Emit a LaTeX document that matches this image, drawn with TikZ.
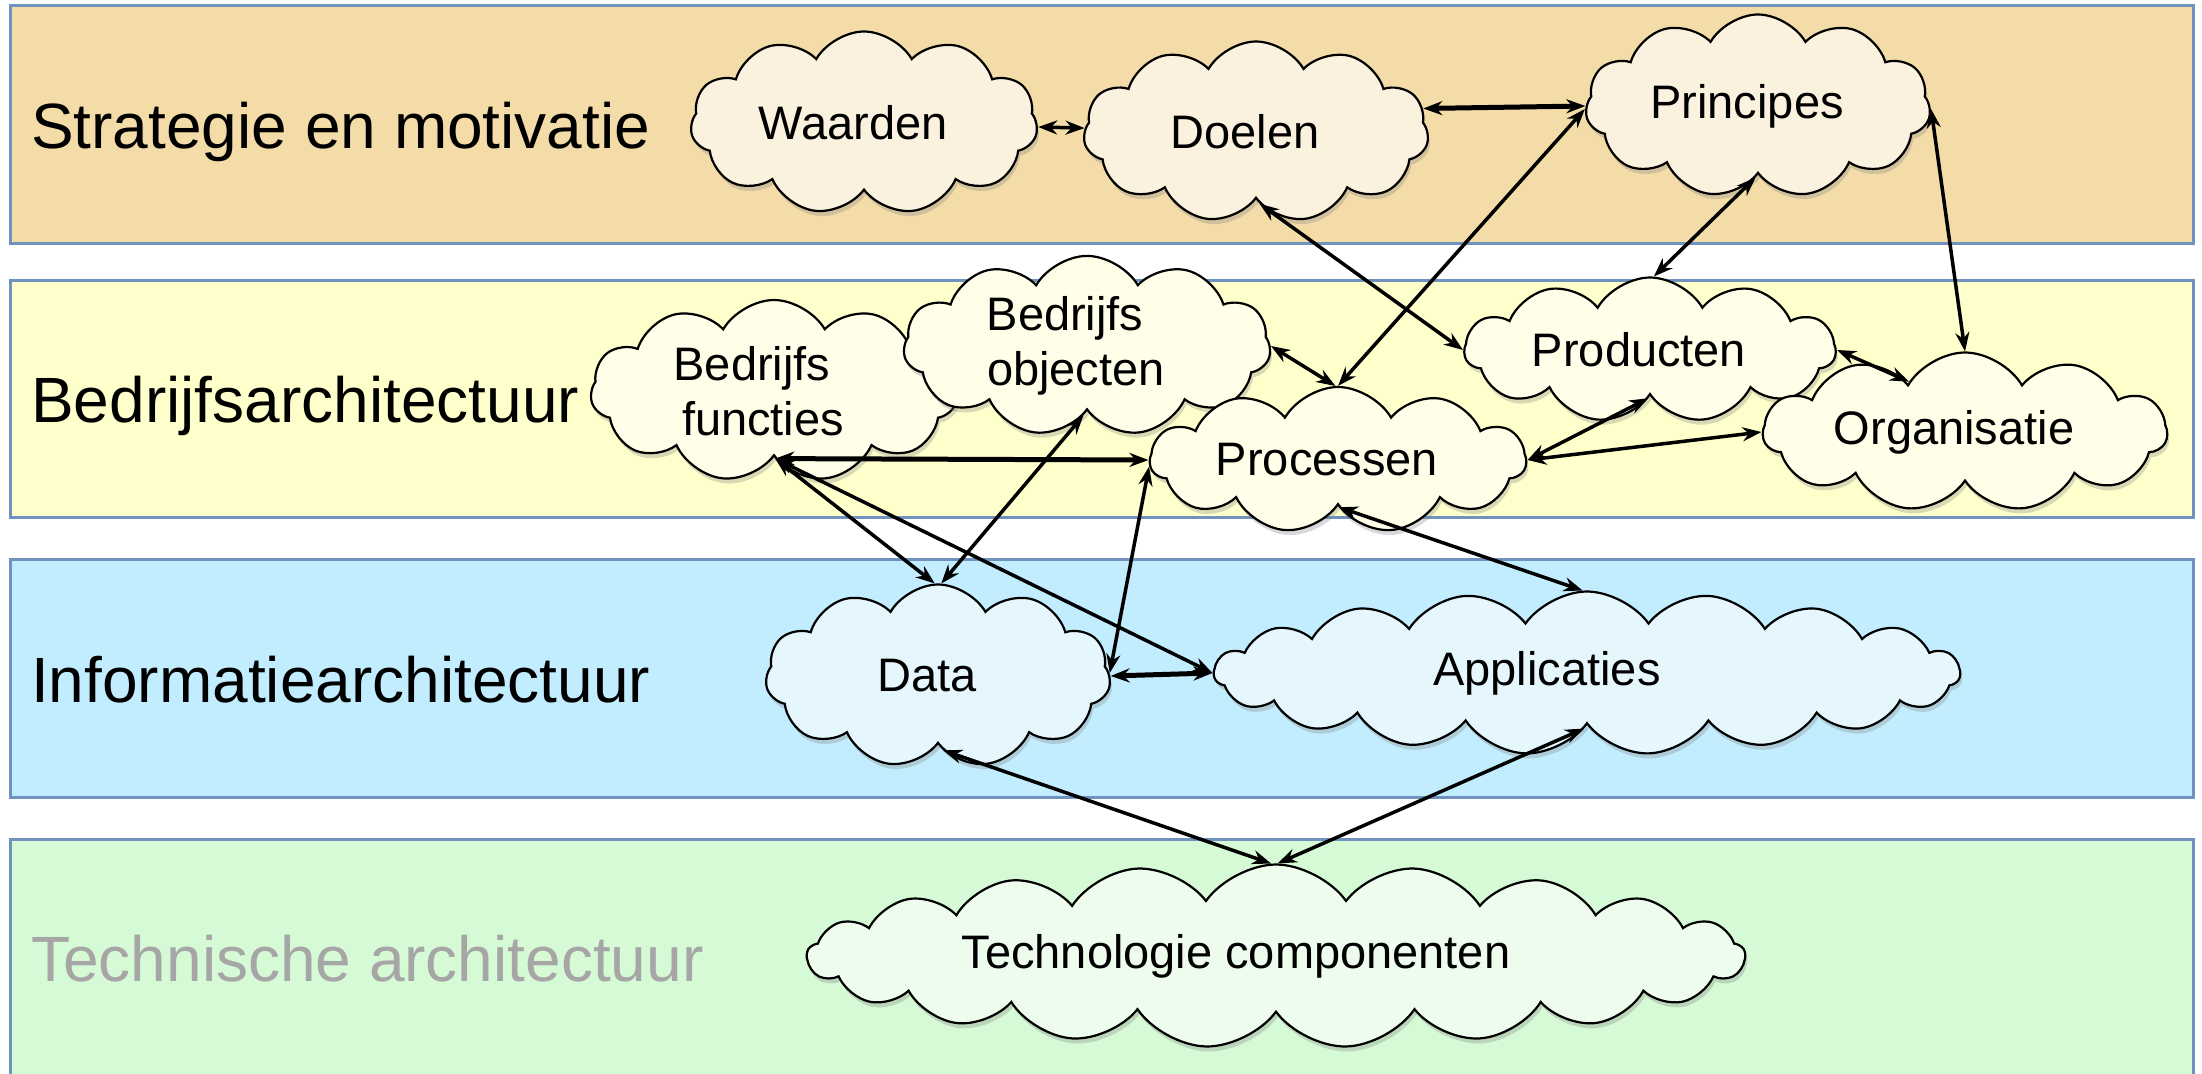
\documentclass[tikz,border=0pt]{standalone}
\usepackage{fontspec}
\setmainfont{Liberation Sans}
\usepackage{tikz}
\usetikzlibrary{shapes.symbols,arrows.meta,shadows}

\definecolor{bandline}{RGB}{112,146,190}
\definecolor{stratband}{RGB}{243,220,168}
\definecolor{stratwolk}{RGB}{250,241,222}
\definecolor{bedrband}{RGB}{255,255,204}
\definecolor{bedrwolk}{RGB}{254,254,233}
\definecolor{infoband}{RGB}{194,237,254}
\definecolor{infowolk}{RGB}{229,246,252}
\definecolor{techband}{RGB}{213,250,213}
\definecolor{techwolk}{RGB}{237,252,236}
\definecolor{techtekst}{RGB}{166,166,166}

\begin{document}
\begin{tikzpicture}
	[
		x=1pt, y=-1pt,
		band/.style  = {draw=bandline, line width=3pt},
		laag/.style  = {anchor=base west, inner sep=0pt, font=\fontsize{64}{70}\selectfont},
		wolk/.style  = {cloud, cloud puffs=11, cloud puff arc=120, cloud ignores aspect,
		                draw=black, line width=2.2pt, align=center, inner sep=0pt,
		                font=\fontsize{47}{55}\selectfont,
		                drop shadow={shadow xshift=2pt, shadow yshift=-5pt, opacity=0.3},
		                execute at end node={\hspace*{22pt}}},
		breed/.style = {wolk, cloud puffs=19, cloud puff arc=110, execute at end node={\hspace*{58pt}}},
		link/.style  = {{Stealth[length=19pt,width=14pt]}-{Stealth[length=19pt,width=14pt]}, line width=3.5pt},
		dik/.style   = {link, line width=5pt},
	]

	\useasboundingbox (0,0) rectangle (2202,1073);

	% lagen
	\draw[band, fill=stratband] (10,6)   rectangle (2193,243);
	\draw[band, fill=bedrband]  (10,280) rectangle (2193,517);
	\draw[band, fill=infoband]  (10,559) rectangle (2193,797);
	\draw[band, fill=techband]  (10,839) rectangle (2193,1090);

	\node[laag] (strategie)  at ( 31, 148 ) {Strategie en motivatie};
	\node[laag] (bedrijf)    at ( 31, 422 ) {Bedrijfsarchitectuur};
	\node[laag] (informatie) at ( 31, 702 ) {Informatiearchitectuur};
	\node[laag, text=techtekst] (technisch) at ( 31, 981 ) {Technische architectuur};

	% wolken
	\node[wolk, fill=stratwolk, minimum width=347pt, minimum height=183pt] (waarden)     at (  864, 123 ) {Waarden};
	\node[wolk, fill=stratwolk, minimum width=345pt, minimum height=181pt] (doelen)      at ( 1256, 132 ) {Doelen};
	\node[wolk, fill=stratwolk, minimum width=345pt, minimum height=183pt] (principes)   at ( 1758, 106 ) {Principes};
	\node[wolk, fill=bedrwolk,  minimum width=367pt, minimum height=182pt] (functies)    at (  774, 391 ) {Bedrijfs\hspace*{22pt}\\functies};
	\node[wolk, fill=bedrwolk,  minimum width=367pt, minimum height=142pt] (objecten)    at ( 1087, 346 ) {Bedrijfs\hspace*{22pt}\\objecten};
	\node[wolk, fill=bedrwolk,  minimum width=371pt, minimum height=145pt] (producten)   at ( 1650, 350 ) {Producten};
	\node[wolk, fill=bedrwolk,  minimum width=376pt, minimum height=146pt] (processen)   at ( 1338, 460 ) {Processen};
	\node[wolk, fill=bedrwolk,  minimum width=404pt, minimum height=159pt] (organisatie) at ( 1965, 432 ) {Organisatie};
	\node[wolk, fill=infowolk,  minimum width=345pt, minimum height=183pt] (data)        at (  938, 676 ) {Data};
	\node[breed, fill=infowolk, minimum width=746pt, minimum height=163pt] (applicaties) at ( 1587, 673 ) {Applicaties};
	\node[breed, fill=techwolk, cloud puffs=21, minimum width=938pt, minimum height=183pt] (techniek) at ( 1276, 956 ) {Technologie componenten};

	\foreach \from/\to in {waarden/doelen, principes.181/processen.90, doelen.-87/producten.180,
		principes.-92/producten.87, principes.-1/organisatie.90, producten.0/organisatie.138,
		processen.0/producten.-92, processen.0/organisatie.180, objecten.0/processen.92,
		functies.-89/data.92, objecten.-93/data.88, functies.-89/applicaties.180,
		processen.182/data.1, processen.-89/applicaties.93, data.-86/techniek.93,
		applicaties.-93/techniek.89}
	\draw[link] (\from) -- (\to);

	\foreach \from/\to in {doelen.8/principes.180, functies.-89/processen.180, data.0/applicaties.180}
	\draw[dik] (\from) -- (\to);

\end{tikzpicture}
\end{document}
